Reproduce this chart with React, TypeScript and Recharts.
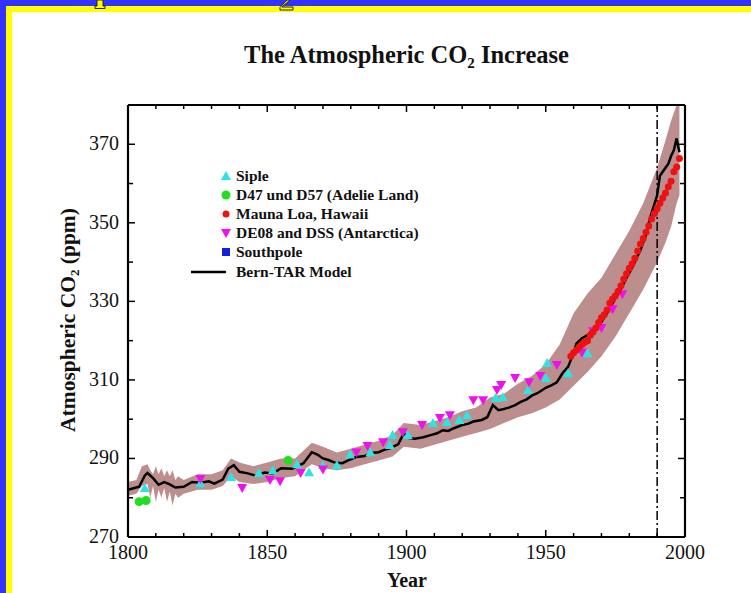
import React from 'react';
import { ComposedChart, Area, Line, Scatter, XAxis, YAxis, ReferenceLine, Legend } from 'recharts';

// Bern-TAR model [year, ppm]
const model: [number, number][] = [
  [1800, 282.0], [1802, 282.4], [1804, 282.8], [1806, 285.6], [1807, 286.3], [1809, 285.0],
  [1811, 283.3], [1813, 284.0], [1815, 283.4], [1817, 282.6], [1820, 282.8], [1823, 284.0],
  [1826, 283.8], [1829, 284.2], [1831, 283.6], [1834, 284.6], [1836, 287.4], [1838, 288.3],
  [1840, 286.6], [1843, 286.2], [1846, 285.6], [1849, 286.4], [1852, 286.2], [1855, 287.5],
  [1859, 287.4], [1863, 288.8], [1866, 291.6], [1868, 291.0], [1870, 290.0], [1872, 289.6],
  [1874, 289.0], [1877, 288.8], [1880, 289.8], [1882, 290.4], [1885, 290.6], [1887, 291.4],
  [1890, 291.6], [1892, 292.2], [1894, 292.6], [1897, 293.6], [1899, 296.4], [1901, 295.2],
  [1903, 295.0], [1906, 295.4], [1909, 296.0], [1911, 296.4], [1913, 297.2], [1915, 297.0],
  [1917, 297.7], [1920, 298.5], [1922, 298.8], [1924, 299.4], [1927, 299.8], [1929, 300.5],
  [1931, 303.6], [1933, 302.3], [1935, 302.6], [1937, 303.0], [1939, 303.6], [1941, 304.4],
  [1943, 305.0], [1945, 306.0], [1947, 306.6], [1950, 308.0], [1952, 308.6], [1954, 309.4],
  [1956, 311.7], [1958, 313.3], [1960, 316.8], [1961, 319.2], [1963, 320.6], [1965, 321.4],
  [1967, 322.8], [1968, 323.4], [1970, 324.7], [1972, 327.0], [1974, 329.5], [1976, 332.0],
  [1978, 334.6], [1979, 336.0], [1981, 338.6], [1983, 341.6], [1984, 343.0], [1986, 347.0],
  [1987, 350.0], [1988, 352.5], [1990, 357.0], [1991, 362.0], [1992, 363.0], [1993, 364.0],
  [1994, 365.0], [1995, 367.0], [1996, 368.5], [1997, 371.5], [1998, 368.0],
];

// uncertainty band [year, low, high]
const band: [number, number, number][] = [
  [1800, 280.5, 284], [1803, 281, 284.5], [1805, 283, 288], [1807, 283.5, 288.5], [1808, 280, 287],
  [1809, 283, 286], [1810, 279, 288], [1811, 282, 286], [1812, 280, 287.5], [1813, 282.5, 285.5],
  [1814, 279, 287], [1815, 281.5, 285.5], [1816, 278, 287], [1817, 281, 284.5], [1818, 280, 285.5],
  [1820, 281, 284.5], [1825, 282, 286], [1830, 282, 286], [1834, 283, 287], [1837, 285.5, 290],
  [1840, 284, 289], [1845, 283.5, 288], [1850, 284, 289], [1855, 285, 290], [1860, 285.5, 290],
  [1866, 288.5, 294], [1870, 287.5, 293], [1875, 287, 291.5], [1880, 287.5, 292.5], [1885, 288.5, 293.5],
  [1890, 289.5, 294.5], [1895, 290.5, 296], [1899, 293, 299], [1905, 292.5, 298.5], [1910, 293.5, 299.5],
  [1915, 294.5, 300.5], [1920, 295.5, 302], [1925, 296.5, 303], [1930, 297.5, 305.5], [1935, 299, 306.5],
  [1940, 300.5, 309], [1945, 301.5, 311], [1950, 303, 314], [1955, 305, 319], [1960, 308.5, 327],
  [1965, 312, 332], [1970, 316, 336], [1975, 321, 342], [1980, 327, 348], [1985, 333, 355],
  [1990, 340, 364], [1993, 345, 371], [1995, 349, 376], [1997, 355, 380], [1998, 357, 380],
];

const siple: [number, number][] = [
  [1806, 282.5], [1826, 283.7], [1837, 285.3], [1847, 286.3], [1852, 287.0], [1860.7, 288.5],
  [1865, 286.5], [1870, 288.3], [1875, 288.3], [1879.7, 291.0], [1887, 291.6], [1894, 293.4],
  [1895, 296.0], [1900.5, 296.0], [1909.5, 299.0], [1914.5, 299.3], [1919, 299.8], [1921.7, 301.0],
  [1932, 305.4], [1934.6, 305.6], [1943.6, 307.4], [1950, 310.5], [1950.5, 314.3], [1958, 311.7],
  [1962, 318.0], [1965, 316.8],
];

const adelie: [number, number][] = [[1804, 279.0], [1806.5, 279.3], [1857.5, 289.5]];

const maunaLoa: [number, number][] = [
  [1959, 316.0], [1960, 316.9], [1961, 317.6], [1962, 318.4], [1963, 319.0], [1964, 319.6],
  [1965, 320.0], [1966, 321.4], [1967, 322.2], [1968, 323.2], [1969, 324.6], [1970, 325.8],
  [1971, 326.6], [1972, 327.8], [1973, 329.6], [1974, 330.6], [1975, 331.4], [1976, 332.6],
  [1977, 334.0], [1978, 335.6], [1979, 337.0], [1980, 338.4], [1981, 339.6], [1982, 341.0],
  [1983, 342.8], [1984, 344.6], [1985, 346.0], [1986, 347.6], [1987, 349.2], [1988, 351.0],
  [1989, 352.4], [1990, 353.6], [1991, 355.0], [1992, 356.3], [1993, 357.6], [1994, 359.2],
  [1995, 360.6], [1996, 363.0], [1997, 364.2], [1998, 366.4],
];

const de08: [number, number][] = [
  [1826, 284.8], [1841, 282.5], [1851, 284.5], [1854.6, 284.2], [1862, 286.3], [1870, 287.2],
  [1882, 291.5], [1886, 293.2], [1891.6, 294.1], [1898.7, 296.7], [1905.6, 298.5], [1912, 300.3],
  [1915.6, 301.0], [1924, 304.8], [1927.5, 304.8], [1932.5, 307.4], [1934, 308.7], [1939, 310.5],
  [1944, 309.4], [1948, 311.0], [1954, 313.8], [1963, 317.0], [1967, 322.4], [1970, 323.2],
  [1974, 328.0], [1977.5, 331.8],
];

const southpole: [number, number][] = [];

const xTicks = [1800, 1810, 1820, 1830, 1840, 1850, 1860, 1870, 1880, 1890, 1900, 1910, 1920, 1930, 1940, 1950, 1960, 1970, 1980, 1990, 2000];
const yTicks = [270, 280, 290, 300, 310, 320, 330, 340, 350, 360, 370];

const legendItems = [
  { name: 'Siple', kind: 'triUp', color: '#2fe3e3' },
  { name: 'D47 und D57 (Adelie Land)', kind: 'circle', color: '#22dd22' },
  { name: 'Mauna Loa, Hawaii', kind: 'circle', color: '#ee1111' },
  { name: 'DE08 and DSS (Antarctica)', kind: 'triDown', color: '#ee11ee' },
  { name: 'Southpole', kind: 'square', color: '#1122dd' },
  { name: 'Bern-TAR Model', kind: 'line', color: '#000000' },
];

const serif = '"Liberation Serif", "DejaVu Serif", serif';

const toPts = (arr: [number, number][]) => arr.map(([year, co2]) => ({ year, co2 }));
const modelData = model.map(([year, m]) => ({ year, model: m }));
const bandData = band.map(([year, lo, hi]) => ({ year, band: [lo, hi] }));

const marker = (kind: string, color: string, cx: number, cy: number) => {
  if (kind === 'triUp') return <path d={`M${cx},${cy - 5} L${cx + 5},${cy + 4} L${cx - 5},${cy + 4} Z`} fill={color} />;
  if (kind === 'triDown') return <path d={`M${cx},${cy + 5} L${cx + 5},${cy - 4} L${cx - 5},${cy - 4} Z`} fill={color} />;
  if (kind === 'square') return <rect x={cx - 4} y={cy - 4} width={8} height={8} fill={color} />;
  if (kind === 'line') return <line x1={cx - 35} y1={cy} x2={cx} y2={cy} stroke={color} strokeWidth={2.5} />;
  return <circle cx={cx} cy={cy} r={color === '#22dd22' ? 4.5 : 3.5} fill={color} />;
};

const shapeFor = (kind: string, color: string) => (p: any) => marker(kind, color, p.cx, p.cy);

const renderLegend = () => (
  <div style={{ fontFamily: serif, fontWeight: 'bold', fontSize: 15.5, color: '#111' }}>
    {legendItems.map((it) => (
      <div key={it.name} style={{ display: 'flex', alignItems: 'center', height: 19.2 }}>
        <svg width={44} height={14} style={{ display: 'block' }}>
          {marker(it.kind, it.color, 38, 7)}
        </svg>
        <span style={{ marginLeft: 4, whiteSpace: 'nowrap' }}>{it.name}</span>
      </div>
    ))}
  </div>
);

const BottomTick = (props: any) => {
  const { x, y, payload } = props;
  const major = payload.value % 50 === 0;
  return (
    <g>
      <line x1={x} y1={y} x2={x} y2={y - (major ? 7 : 4)} stroke="#000" strokeWidth={1.5} />
      {major && (
        <text x={x} y={y + 22} textAnchor="middle" fontFamily={serif} fontSize={20} fill="#111">
          {payload.value}
        </text>
      )}
    </g>
  );
};

const TopTick = (props: any) => {
  const { x, y, payload } = props;
  const major = payload.value % 50 === 0;
  return <line x1={x} y1={y} x2={x} y2={y + (major ? 7 : 4)} stroke="#000" strokeWidth={1.5} />;
};

const LeftTick = (props: any) => {
  const { x, y, payload } = props;
  const major = (payload.value - 270) % 20 === 0;
  return (
    <g>
      <line x1={x} y1={y} x2={x + (major ? 7 : 5)} y2={y} stroke="#000" strokeWidth={1.5} />
      {major && (
        <text x={x - 9} y={y + 6} textAnchor="end" fontFamily={serif} fontSize={20} fill="#111">
          {payload.value}
        </text>
      )}
    </g>
  );
};

const RightTick = (props: any) => {
  const { x, y, payload } = props;
  const major = (payload.value - 270) % 20 === 0;
  return <line x1={x} y1={y} x2={x - (major ? 7 : 5)} y2={y} stroke="#000" strokeWidth={1.5} />;
};

export default function App() {
  return (
    <div style={{ position: 'absolute', left: 0, top: 0, width: 751, height: 593, background: '#fff', overflow: 'hidden', fontFamily: serif }}>
      {/* slide frame */}
      <div style={{ position: 'absolute', left: 0, top: 0, width: 751, height: 6, background: '#3333ff' }} />
      <div style={{ position: 'absolute', left: 0, top: 0, width: 6, height: 593, background: '#3333ff' }} />
      <div style={{ position: 'absolute', left: 6, top: 6, width: 745, height: 6, background: '#ffff00' }} />
      <div style={{ position: 'absolute', left: 6, top: 6, width: 6, height: 587, background: '#ffff00' }} />
      <svg width={751} height={14} style={{ position: 'absolute', left: 0, top: 0 }}>
        <path d="M97,0 L103,0 L103,6 L105,6 L105,8.5 L95,8.5 L95,6 L97,6 Z" fill="#ffff00" stroke="#222" strokeWidth={1} />
        <path d="M290,0 L282,7 L293,7 L293,10 L280,10 L280,7.5 L287,0 Z" fill="#ffff00" stroke="#222" strokeWidth={1} />
      </svg>

      <ComposedChart width={751} height={593} margin={{ top: 104, right: 65, bottom: 26, left: 68 }}>
        <XAxis
          dataKey="year"
          type="number"
          domain={[1800, 2000]}
          ticks={xTicks}
          interval={0}
          height={30}
          tickSize={0}
          tickMargin={0}
          tick={<BottomTick />}
          tickLine={false}
          axisLine={{ stroke: '#000', strokeWidth: 2.2 }}
          allowDataOverflow
        />
        <XAxis
          xAxisId="top"
          orientation="top"
          dataKey="year"
          type="number"
          domain={[1800, 2000]}
          ticks={xTicks}
          interval={0}
          height={1}
          tickSize={0}
          tickMargin={0}
          tick={<TopTick />}
          tickLine={false}
          axisLine={{ stroke: '#000', strokeWidth: 2.2 }}
          allowDataOverflow
        />
        <YAxis
          type="number"
          domain={[270, 380]}
          ticks={yTicks}
          interval={0}
          width={60}
          tickSize={0}
          tickMargin={0}
          tick={<LeftTick />}
          tickLine={false}
          axisLine={{ stroke: '#000', strokeWidth: 2.2 }}
          allowDataOverflow
        />
        <YAxis
          yAxisId="right"
          orientation="right"
          type="number"
          domain={[270, 380]}
          ticks={yTicks}
          interval={0}
          width={1}
          tickSize={0}
          tickMargin={0}
          tick={<RightTick />}
          tickLine={false}
          axisLine={{ stroke: '#000', strokeWidth: 2.2 }}
          allowDataOverflow
        />
        <Area data={bandData} dataKey="band" type="linear" stroke="none" fill="#bd8e8e" fillOpacity={1} isAnimationActive={false} />
        <Scatter data={toPts(siple)} dataKey="co2" shape={shapeFor('triUp', '#2fe3e3')} isAnimationActive={false} />
        <Scatter data={toPts(adelie)} dataKey="co2" shape={shapeFor('circle', '#22dd22')} isAnimationActive={false} />
        <Scatter data={toPts(de08)} dataKey="co2" shape={shapeFor('triDown', '#ee11ee')} isAnimationActive={false} />
        <Scatter data={toPts(southpole)} dataKey="co2" shape={shapeFor('square', '#1122dd')} isAnimationActive={false} />
        <Line data={modelData} dataKey="model" type="linear" stroke="#000" strokeWidth={2.5} dot={false} isAnimationActive={false} />
        <Scatter data={toPts(maunaLoa)} dataKey="co2" shape={shapeFor('circle', '#ee1111')} isAnimationActive={false} />
        <ReferenceLine x={1990} stroke="#000" strokeWidth={1.5} strokeDasharray="9 3 2 3" />
        <Legend
          content={renderLegend}
          layout="vertical"
          align="center"
          verticalAlign="middle"
          wrapperStyle={{ position: 'absolute', left: 188, top: 166, width: 280 }}
        />
      </ComposedChart>

      <div style={{ position: 'absolute', left: 31, top: 41, width: 751, textAlign: 'center', fontWeight: 'bold', fontSize: 24.5, color: '#111', lineHeight: '28px' }}>
        The Atmospheric CO<sub style={{ fontSize: 15, verticalAlign: -5, lineHeight: 0 }}>2</sub> Increase
      </div>
      <div
        style={{
          position: 'absolute', left: 68, top: 320, transform: 'translate(-50%, -50%) rotate(-90deg)',
          whiteSpace: 'nowrap', fontWeight: 'bold', fontSize: 21.5, color: '#111',
        }}
      >
        Atmospheric CO<sub style={{ fontSize: 13, verticalAlign: -4, lineHeight: 0 }}>2</sub> (ppm)
      </div>
      <div style={{ position: 'absolute', left: 357, top: 569, width: 100, textAlign: 'center', fontWeight: 'bold', fontSize: 20, color: '#111' }}>
        Year
      </div>
    </div>
  );
}
